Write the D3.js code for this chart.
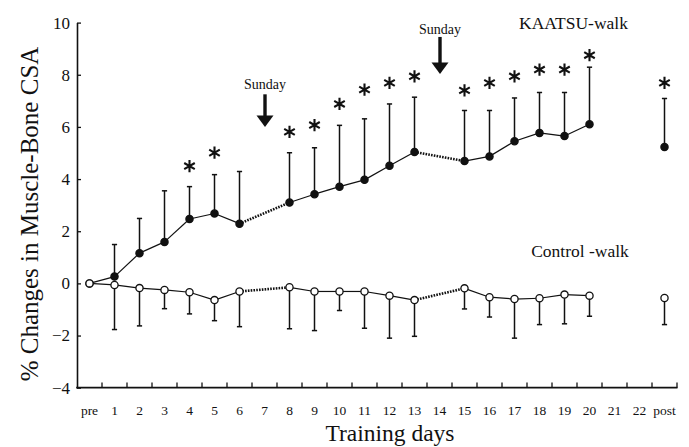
<!DOCTYPE html>
<html><head><meta charset="utf-8">
<script src="https://cdn.jsdelivr.net/npm/d3@7"></script>
<style>
html,body{margin:0;padding:0;background:#fff;}
svg text{font-family:"Liberation Serif","Times New Roman",serif;fill:#111;}
</style></head>
<body><svg id="chart" width="689" height="447"></svg>
<script>
// ---- data ----
const days = ["pre","1","2","3","4","5","6","7","8","9","10","11","12","13","14","15","16","17","18","19","20","21","22","post"];
const measuredDays = ["pre","1","2","3","4","5","6","8","9","10","11","12","13","15","16","17","18","19","20","post"];
const kaatsuMean = [0,0.26,1.16,1.59,2.47,2.68,2.29,3.10,3.42,3.71,3.97,4.51,5.04,4.69,4.87,5.45,5.77,5.65,6.10,5.23];
const kaatsuSD   = [0,1.23,1.33,1.96,1.24,1.49,2.00,1.91,1.78,2.35,2.34,2.37,2.10,1.94,1.76,1.66,1.55,1.67,2.19,1.86];
const controlMean = [0,-0.06,-0.18,-0.25,-0.34,-0.64,-0.31,-0.15,-0.31,-0.31,-0.31,-0.47,-0.64,-0.19,-0.53,-0.60,-0.57,-0.43,-0.47,-0.56];
const controlSD   = [0,1.71,1.45,0.72,0.83,0.79,1.35,1.59,1.50,0.73,1.41,1.63,1.39,0.79,0.76,1.50,1.01,1.12,0.79,1.02];
const sigDays  = ["4","5","8","9","10","11","12","13","15","16","17","18","19","20","post"];
const sigLevel = [4.50,5.01,5.81,6.07,6.88,7.43,7.69,7.94,7.40,7.69,7.94,8.20,8.20,8.75,7.69];
const sundayDays = ["7","14"];
const sundayTip  = [6.0, 8.03];
const sundayTail = [7.25, 9.45];
const sundayText = [7.44, 9.58];
const yTicks = [-4,-2,0,2,4,6,8,10];

const SERIF = '"Liberation Serif","Times New Roman",serif';

// ---- scales ----
const svg = d3.select("#chart");
const x = d3.scaleBand().domain(days).range([77,677]).paddingInner(0).paddingOuter(0);
const bw = x.bandwidth();
const cx = d => x(d) + bw/2;
const y = d3.scaleLinear().domain([-4,10]).range([387.7,22.6]);

// ---- axes ----
const yAxis = d3.axisLeft(y).tickValues(yTicks).tickSizeInner(-4).tickSizeOuter(0).tickPadding(7).tickFormat(d3.format("d"));
const gy = svg.append("g").attr("transform","translate(77,0)").call(yAxis)
  .attr("font-family",null).attr("font-size",null);
gy.select(".domain").attr("stroke","#111").attr("stroke-width",1.6);
gy.selectAll(".tick line").attr("stroke","#111").attr("stroke-width",1.3);
gy.selectAll(".tick text").style("font-size","17px").style("font-family",SERIF).attr("fill","#111");

const xAxis = d3.axisBottom(x).tickSize(0).tickPadding(0).tickFormat(d => d);
const gx = svg.append("g").attr("transform","translate(0,387.7)").call(xAxis)
  .attr("font-family",null).attr("font-size",null);
gx.select(".domain").remove();
gx.selectAll(".tick text").style("font-size","13.5px").style("font-family",SERIF).attr("fill","#111")
  .attr("dy",null).attr("y",27.5);
svg.append("line").attr("x1",76.2).attr("x2",677.5).attr("y1",387.7).attr("y2",387.7)
  .attr("stroke","#111").attr("stroke-width",1.8);
// boundary ticks (between categories)
svg.append("g").selectAll("line").data(days.slice(1).concat(["__end"])).join("line")
  .attr("x1",d => d==="__end" ? 677 : x(d)).attr("x2",d => d==="__end" ? 677 : x(d))
  .attr("y1",387.7).attr("y2",382.5).attr("stroke","#111").attr("stroke-width",1.3);

// axis titles
svg.append("text").attr("transform","translate(38,214) rotate(-90)").attr("text-anchor","middle")
  .attr("font-size",25).text("% Changes in Muscle-Bone CSA");
svg.append("text").attr("x",390).attr("y",441).attr("text-anchor","middle")
  .attr("font-size",23.5).text("Training days");

// ---- helpers ----
function segments(means){
  const segs = [];
  for(let i=0;i<measuredDays.length-1;i++){
    const a = measuredDays[i], b = measuredDays[i+1];
    if(b==="post") continue;
    const gap = days.indexOf(b) - days.indexOf(a);
    segs.push({a, b, va:means[i], vb:means[i+1], dotted: gap>1});
  }
  return segs;
}
function drawSeries(means, sds, dir, filled){
  const g = svg.append("g");
  // error bars
  measuredDays.forEach((d,i) => {
    if(sds[i]<=0) return;
    const end = means[i] + dir*sds[i];
    g.append("line").attr("x1",cx(d)).attr("x2",cx(d)).attr("y1",y(means[i])).attr("y2",y(end))
      .attr("stroke","#111").attr("stroke-width",1.5);
    g.append("line").attr("x1",cx(d)-2.6).attr("x2",cx(d)+2.6).attr("y1",y(end)).attr("y2",y(end))
      .attr("stroke","#111").attr("stroke-width",1.5);
  });
  // connecting lines
  segments(means).forEach(s => {
    g.append("line").attr("x1",cx(s.a)).attr("y1",y(s.va)).attr("x2",cx(s.b)).attr("y2",y(s.vb))
      .attr("stroke","#111")
      .attr("stroke-width", s.dotted ? 2.6 : 1.2)
      .attr("stroke-dasharray", s.dotted ? "1.6,1.2" : null);
  });
  // markers
  g.selectAll("circle").data(measuredDays.map((d,i)=>({d,v:means[i]}))).join("circle")
    .attr("cx",p=>cx(p.d)).attr("cy",p=>y(p.v)).attr("r",3.6)
    .attr("fill", filled ? "#111" : "#fff").attr("stroke","#111").attr("stroke-width",1.3);
}
drawSeries(kaatsuMean, kaatsuSD, 1, true);
drawSeries(controlMean, controlSD, -1, false);

// significance asterisks
const ast = d3.symbol().type(d3.symbolAsterisk).size(105);
svg.append("g").selectAll("path").data(sigDays.map((d,i)=>({d,v:sigLevel[i]}))).join("path")
  .attr("transform",p=>`translate(${cx(p.d)},${y(p.v)})`).attr("d",ast())
  .attr("fill","none").attr("stroke","#111").attr("stroke-width",2.1);

// Sunday arrows
sundayDays.forEach((d,i) => {
  const xc = cx(d) + 0.5;
  const tip = y(sundayTip[i]), tail = y(sundayTail[i]);
  const headH = 11.5, headW = 8.5;
  svg.append("line").attr("x1",xc).attr("x2",xc).attr("y1",tail).attr("y2",tip-headH+1)
    .attr("stroke","#111").attr("stroke-width",3.4);
  svg.append("path").attr("d",`M${xc-headW},${tip-headH} L${xc+headW},${tip-headH} L${xc},${tip} Z`).attr("fill","#111");
  svg.append("text").attr("x",xc).attr("y",y(sundayText[i])).attr("text-anchor","middle")
    .attr("font-size",14).text("Sunday");
});

// series labels
svg.append("text").attr("x",cx("19")+9).attr("y",y(9.75)).attr("text-anchor","middle").attr("font-size",17.5).text("KAATSU-walk");
svg.append("text").attr("x",cx("20")-9.5).attr("y",y(1.02)).attr("text-anchor","middle").attr("font-size",17.5).text("Control -walk");
</script></body></html>
